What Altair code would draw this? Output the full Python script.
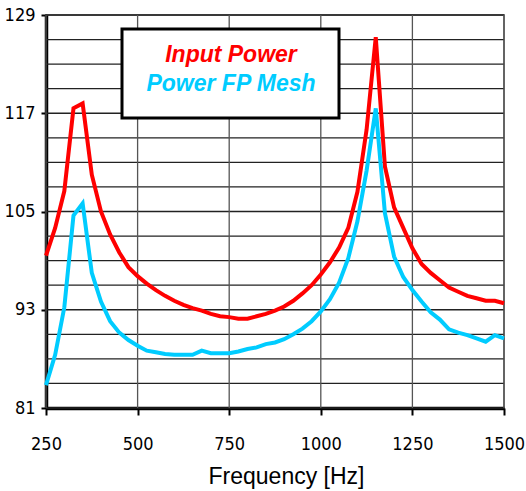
import altair as alt
import pandas as pd

freq = [250, 275, 300, 325, 350, 375, 400, 425, 450, 475, 500, 525, 550, 575, 600,
        625, 650, 675, 700, 725, 750, 775, 800, 825, 850, 875, 900, 925, 950, 975,
        1000, 1025, 1050, 1075, 1100, 1125, 1150, 1175, 1200, 1225, 1250, 1275,
        1300, 1325, 1350, 1375, 1400, 1425, 1450, 1475, 1500]
input_power = [99.6, 103.0, 107.5, 117.6, 118.2, 109.5, 105.0, 102.2, 100.0, 98.2,
               97.1, 96.2, 95.4, 94.7, 94.1, 93.6, 93.2, 92.9, 92.5, 92.2, 92.1,
               91.9, 91.9, 92.2, 92.5, 92.9, 93.4, 94.1, 95.0, 96.0, 97.3, 98.8,
               100.6, 103.0, 107.4, 115.0, 126.3, 110.5, 105.5, 103.0, 100.5, 98.6,
               97.5, 96.6, 95.7, 95.2, 94.7, 94.4, 94.1, 94.1, 93.8]
fp_mesh = [83.8, 87.5, 93.3, 104.5, 106.0, 97.5, 94.0, 91.6, 90.2, 89.3, 88.6, 88.0,
           87.8, 87.6, 87.5, 87.5, 87.5, 88.0, 87.7, 87.7, 87.7, 87.9, 88.2, 88.4,
           88.8, 89.0, 89.4, 90.0, 90.7, 91.6, 92.8, 94.3, 96.3, 99.3, 103.8, 110.0,
           117.6, 104.8, 99.5, 97.0, 95.4, 94.0, 92.7, 91.8, 90.6, 90.2, 89.9, 89.5,
           89.1, 89.9, 89.5]
series_names = ["Input Power", "Power FP Mesh"]
series_colors = ["#FF0000", "#00CCFF"]
x_ticks = [250, 500, 750, 1000, 1250, 1500]
y_ticks = [81, 93, 105, 117, 129]
y_grid = [84, 87, 90, 96, 99, 102, 108, 111, 114, 120, 123, 126] + y_ticks

rows = []
for f, a, b in zip(freq, input_power, fp_mesh):
    rows.append({"f": f, "v": a, "s": series_names[0]})
    rows.append({"f": f, "v": b, "s": series_names[1]})
df = pd.DataFrame(rows)

xs = alt.Scale(domain=[250, 1500], nice=False, zero=False)
ys = alt.Scale(domain=[81, 129], nice=False, zero=False)

narrow = "Liberation Sans Narrow, DejaVu Sans Condensed, Roboto Condensed, Liberation Sans"

x_axis = alt.Axis(
    values=x_ticks, format="d", title="Frequency [Hz]", grid=False, labelFlush=False,
    domainColor="black", domainWidth=3.5, tickColor="black", tickWidth=2, tickSize=7,
    labelFont=narrow, labelFontSize=18, labelColor="black", labelPadding=20,
    titleFont="Liberation Sans", titleFontSize=23, titleFontWeight="normal", titleColor="black",
    titleX=240, titleY=75, titleBaseline="alphabetic")
y_axis = alt.Axis(
    values=y_ticks, format="d", title=None, grid=False, labelFlush=False,
    domainColor="black", domainWidth=3.5, tickColor="black", tickWidth=2, tickSize=5,
    labelFont=narrow, labelFontSize=18, labelColor="black", labelPadding=6)

hgrid = alt.Chart(pd.DataFrame({"y": y_grid})).mark_rule(color="#222222", strokeWidth=1.3).encode(
    y=alt.Y("y:Q", scale=ys, axis=y_axis))
vgrid = alt.Chart(pd.DataFrame({"x": x_ticks})).mark_rule(color="#555555", strokeWidth=1.3).encode(
    x=alt.X("x:Q", scale=xs, axis=x_axis))

lines = alt.Chart(df).mark_line(strokeWidth=4, strokeJoin="miter").encode(
    x=alt.X("f:Q", scale=xs, axis=x_axis),
    y=alt.Y("v:Q", scale=ys, axis=y_axis),
    color=alt.Color("s:N", scale=alt.Scale(domain=series_names, range=series_colors), legend=None),
    detail="s:N",
)

box = alt.Chart(pd.DataFrame({"a": [0]})).mark_rect(
    fill="white", stroke="black", strokeWidth=3).encode(
    x=alt.value(76), x2=alt.value(293), y=alt.value(14), y2=alt.value(103))

leg_text = alt.Chart(pd.DataFrame({"t": series_names, "c": series_colors,
                                   "yy": [47, 76]})).mark_text(
    font="Liberation Sans", fontSize=23, fontWeight="bold", fontStyle="italic",
    align="center", baseline="alphabetic").encode(
    x=alt.value(185), y=alt.Y("yy:Q", scale=None), text="t:N",
    color=alt.Color("c:N", scale=None))

chart = alt.layer(hgrid, vgrid, lines, box, leg_text).properties(
    width=458, height=393,
    autosize=alt.AutoSizeParams(type="none"),
    padding={"left": 46, "top": 15, "right": 22, "bottom": 83},
    background="white",
).configure_view(stroke="#808080", strokeWidth=2)

chart.save("out.html", embed_options={"renderer": "svg", "actions": False})
